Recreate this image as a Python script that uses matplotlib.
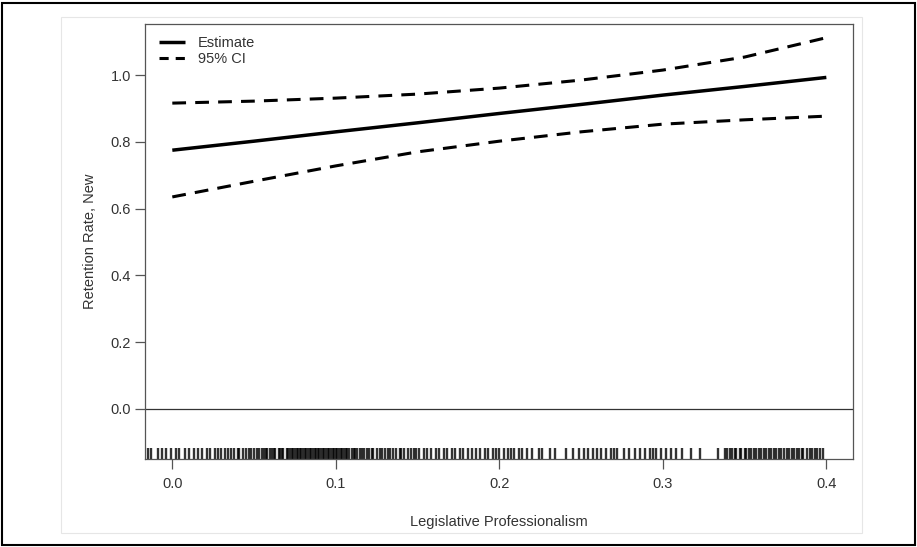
import matplotlib
matplotlib.use("Agg")
import matplotlib.pyplot as plt
from matplotlib.patches import Rectangle

plt.rcParams['font.family'] = ['Liberation Sans', 'DejaVu Sans']

x_grid = [0.0, 0.05, 0.10, 0.15, 0.20, 0.25, 0.30, 0.35, 0.40]
estimate = [0.775, 0.802, 0.830, 0.857, 0.885, 0.912, 0.940, 0.966, 0.993]
ci_upper = [0.916, 0.922, 0.931, 0.943, 0.961, 0.985, 1.015, 1.054, 1.112]
ci_lower = [0.635, 0.682, 0.728, 0.770, 0.802, 0.830, 0.853, 0.866, 0.877]

rug_values = [
    -0.015, -0.013, -0.009, -0.006, -0.004, -0.001,
    0.002, 0.004, 0.008, 0.010, 0.013, 0.016, 0.018, 0.021, 0.023, 0.026,
    0.028, 0.030, 0.032, 0.034,
    0.036, 0.038, 0.040, 0.041, 0.043, 0.045, 0.047, 0.048, 0.050, 0.052,
    0.053, 0.055,
    0.056, 0.057, 0.058, 0.060, 0.061, 0.062, 0.063, 0.065, 0.066, 0.067,
    0.068, 0.070, 0.071, 0.072, 0.073, 0.074, 0.075, 0.076, 0.077, 0.078,
    0.079, 0.080, 0.081, 0.082, 0.083, 0.084, 0.085, 0.086, 0.087, 0.088,
    0.089, 0.090, 0.091, 0.092, 0.093, 0.094, 0.095, 0.096, 0.097, 0.098,
    0.099, 0.100, 0.101, 0.102, 0.103, 0.104, 0.105, 0.106, 0.107, 0.108,
    0.110, 0.111, 0.112, 0.113, 0.115, 0.116, 0.117, 0.119,
    0.120, 0.122, 0.123, 0.125, 0.127, 0.128, 0.130, 0.132, 0.133, 0.135,
    0.137, 0.139, 0.140, 0.142, 0.144, 0.146, 0.148, 0.149,
    0.151, 0.154, 0.156, 0.158, 0.161, 0.163, 0.166, 0.168, 0.171, 0.173,
    0.176, 0.178, 0.181, 0.183, 0.186, 0.188,
    0.191, 0.193, 0.196, 0.198, 0.200, 0.203, 0.205, 0.207, 0.209, 0.212,
    0.214,
    0.217, 0.220, 0.224, 0.226, 0.231, 0.234, 0.241, 0.245, 0.249, 0.252,
    0.254, 0.257, 0.260, 0.262, 0.265, 0.268, 0.270, 0.272, 0.276, 0.279,
    0.283, 0.286, 0.289, 0.292, 0.294, 0.296, 0.299,
    0.302, 0.305, 0.308, 0.312, 0.317, 0.323, 0.334,
    0.338, 0.339, 0.341, 0.342, 0.344, 0.345, 0.347, 0.348, 0.350, 0.351,
    0.353, 0.354, 0.356, 0.357, 0.359, 0.360, 0.362, 0.363, 0.365, 0.366,
    0.368, 0.369, 0.371, 0.372, 0.374, 0.376, 0.377, 0.379, 0.380, 0.382,
    0.383, 0.385, 0.386, 0.388, 0.390, 0.391, 0.393, 0.394, 0.396, 0.398,
]

x_ticks = [0.0, 0.1, 0.2, 0.3, 0.4]
y_ticks = [0.0, 0.2, 0.4, 0.6, 0.8, 1.0]

fig = plt.figure(figsize=(9.17, 5.47), dpi=100)
W, H = 917, 547
ax = fig.add_axes([145 / W, (H - 459) / H, (853 - 145) / W, (459 - 24) / H])

ax.set_xlim(-0.0167, 0.4163)
ax.set_ylim(-0.150, 1.153)

dash = (0, (4.5, 3.0))
ax.plot(x_grid, estimate, color='black', lw=2.5, solid_capstyle='butt', label='Estimate')
ax.plot(x_grid, ci_upper, color='black', lw=2.2, linestyle=dash, label='95% CI')
ax.plot(x_grid, ci_lower, color='black', lw=2.2, linestyle=dash)

ax.axhline(0.0, color='#333333', lw=0.9)

# rug along the bottom
ax.vlines(rug_values, -0.150, -0.116, colors='black', lw=1.7, alpha=0.8)

ax.set_xticks(x_ticks)
ax.set_xticklabels([f"{v:.1f}" for v in x_ticks])
ax.set_yticks(y_ticks)
ax.set_yticklabels([f"{v:.1f}" for v in y_ticks])

for s in ax.spines.values():
    s.set_color('#555555')
    s.set_linewidth(0.9)
ax.tick_params(axis='both', length=7, width=0.9, color='#555555',
               labelcolor='#333333', labelsize=10.5)
ax.tick_params(axis='x', pad=6)
ax.tick_params(axis='y', pad=3)

ax.set_xlabel('Legislative Professionalism', fontsize=10.5, color='#333333', labelpad=17)
ax.set_ylabel('Retention Rate, New', fontsize=10.5, color='#333333', labelpad=10)

leg = ax.legend(loc='upper left', frameon=False, fontsize=10.5, handlelength=1.75,
                borderaxespad=0.0, labelspacing=0.1, handletextpad=0.9,
                bbox_to_anchor=(0.012, 0.985))
for t in leg.get_texts():
    t.set_color('#333333')
leg.get_lines()[1].set_dashes([3.0, 2.3])

# faint inner frame and outer black border
fig.patches.append(Rectangle((61 / W, (H - 533) / H), (862 - 61) / W, (533 - 17) / H,
                             transform=fig.transFigure, fill=False,
                             edgecolor='#e6e6e6', lw=0.8, zorder=0))
fig.patches.append(Rectangle((2 / W, 2 / H), (W - 4) / W, (H - 5) / H,
                             transform=fig.transFigure, fill=False,
                             edgecolor='black', lw=1.5))

fig.savefig('out.png', dpi=100)
